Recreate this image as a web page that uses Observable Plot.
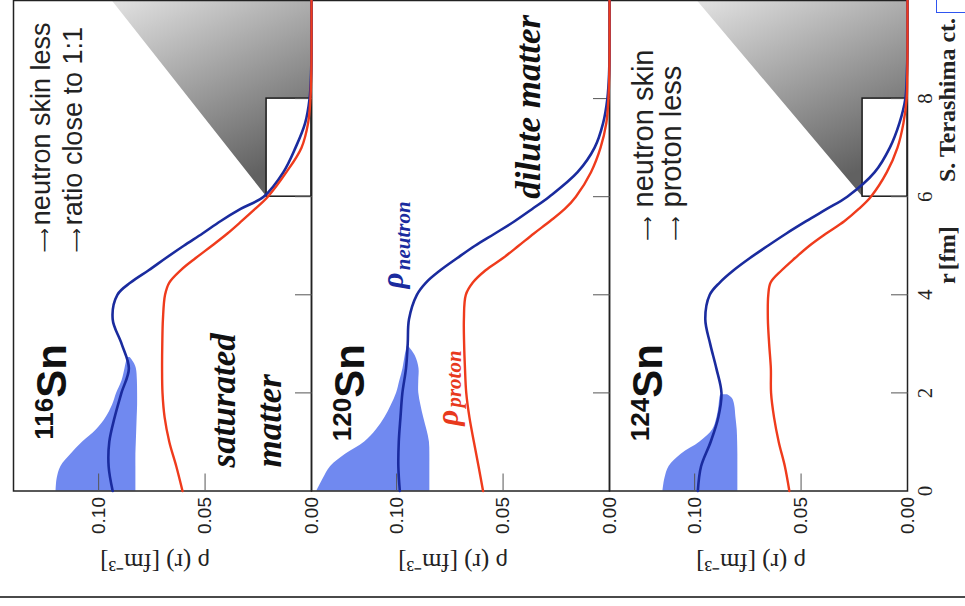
<!DOCTYPE html>
<html>
<head>
<meta charset="utf-8">
<script src="https://cdn.jsdelivr.net/npm/d3@7"></script>
<script src="https://cdn.jsdelivr.net/npm/@observablehq/plot@0.6"></script>
<style>
html, body { margin: 0; padding: 0; background: #fff; }
#wrap { position: relative; width: 965px; height: 606px; overflow: hidden; background: #fff; }
#chart { position: absolute; left: 0; top: 0; }
#bottomline { position: absolute; left: 0; top: 596px; width: 965px; height: 2px; background: #4a4a4a; }
#bluebox { position: absolute; left: 936px; top: -4px; width: 40px; height: 15px; border: 1.5px solid #2f55f0; }
</style>
</head>
<body>
<div id="wrap"><div id="chart"></div><div id="bottomline"></div><div id="bluebox"></div></div>
<script>
// ---------- data ----------
const nuclei = ["116Sn", "120Sn", "124Sn"];
const massNumbers = ["116", "120", "124"];

// radius grid r [fm] at which the density curves were read
const rGrid = [0, 0.5, 1, 1.5, 2, 2.5, 3, 3.5, 4, 4.25, 4.5, 4.75, 5, 5.25, 5.5, 5.75, 6, 6.5, 7, 7.5, 8, 8.5, 9, 10];

const neutron116 = [.0934, .0953, .0950, .0925, .0893, .0858, .0892, .0934, .0912, .0850, .0765, .0684, .0600, .0512, .0428, .0333, .0225, .0132, .0075, .0030, .0009, .0002, 0, 0];
const proton116  = [.0606, .0635, .0668, .0690, .0700, .0702, .0701, .0698, .0688, .0668, .0615, .0544, .0468, .0395, .0329, .0265, .0205, .0118, .0047, .0016, .0005, .0001, 0, 0];
const neutron120 = [.0985, .0992, .0990, .0982, .0973, .0956, .0948, .0942, .0905, .0862, .0795, .0715, .0632, .0538, .0446, .0363, .0283, .0150, .0070, .0030, .0010, .0002, 0, 0];
const proton120  = [.0594, .0615, .0637, .0658, .0673, .0679, .0683, .0684, .0675, .0642, .0582, .0500, .0427, .0355, .0280, .0210, .0158, .0087, .0042, .0015, .0005, .0001, 0, 0];
const neutron124 = [.0985, .0970, .0925, .0889, .0874, .0898, .0927, .0950, .0929, .0882, .0817, .0740, .0656, .0569, .0476, .0379, .0283, .0154, .0083, .0038, .0010, .0003, 0, 0];
const proton124  = [.0555, .0576, .0605, .0627, .0641, .0642, .0650, .0656, .0654, .0643, .0591, .0528, .0461, .0382, .0297, .0229, .0172, .0097, .0047, .0019, .0004, .0001, 0, 0];

// neutron uncertainty band
const bandR116    = [0, 0.25, 0.5, 0.75, 1, 1.25, 1.5, 1.75, 2, 2.25, 2.5, 2.62, 2.72];
const bandHigh116 = [.1200, .1195, .1177, .1130, .1075, .1010, .0965, .0935, .0915, .0890, .0876, .0870, .0862];
const bandLow116  = [.0825, .0825, .0825, .0825, .0823, .0821, .0819, .0817, .0817, .0818, .0823, .0835, .0852];
const bandR120    = [0, 0.25, 0.5, 0.75, 1, 1.25, 1.5, 1.75, 2, 2.25, 2.5, 2.75, 2.95];
const bandHigh120 = [.1375, .1345, .1310, .1240, .1150, .1095, .1055, .1025, .1000, .0985, .0970, .0960, .0950];
const bandLow120  = [.0844, .0844, .0844, .0844, .0846, .0858, .0873, .0886, .0896, .0896, .0895, .0912, .0944];
const bandR124    = [0, 0.25, 0.5, 0.75, 1, 1.25, 1.5, 1.75, 1.88, 1.96];
const bandHigh124 = [.1149, .1140, .1120, .1063, .0975, .0915, .0895, .0885, .0882, .0878];
const bandLow124  = [.0797, .0797, .0797, .0797, .0798, .0800, .0806, .0812, .0822, .0845];

// zoom callout (inset box r 6–8 fm, rho 0–0.021) and shaded wedge
const zoomNuclei = ["116Sn", "124Sn"];
const boxRho = [0, 0.0211];
const boxR = [6, 8];
const wedgeTopRho = [0.0938, 0.0989];

// axis ticks
const rhoTicks = [0, 0.05, 0.10];
const rhoMinorTicks = [0.05, 0.10];
const rTicks = [0, 2, 4, 6, 8];
const rInnerTicks = [2, 4, 6, 8];

// text
const notes116 = ["neutron skin less", "ratio close to 1:1"];
const notes124 = ["neutron skin", "proton less"];
const arrowGlyph = "⟶";
const matterTexts = ["saturated", "matter", "dilute matter"];
const rhoAxisLabel = "ρ (r) [fm⁻³]";
const rAxisParts = ["r", "[fm]", "S. Terashima ct."];

// ---------- build tables ----------
const neutronSeries = [neutron116, neutron120, neutron124];
const protonSeries = [proton116, proton120, proton124];
const bandSeries = [[bandR116, bandLow116, bandHigh116], [bandR120, bandLow120, bandHigh120], [bandR124, bandLow124, bandHigh124]];

const neutronRows = [], protonRows = [], bandRows = [];
nuclei.forEach((n, i) => {
  rGrid.forEach((r, j) => {
    neutronRows.push({nucleus: n, r, rho: neutronSeries[i][j]});
    protonRows.push({nucleus: n, r, rho: protonSeries[i][j]});
  });
  const [br, lo, hi] = bandSeries[i];
  br.forEach((r, j) => bandRows.push({nucleus: n, r, low: lo[j], high: hi[j]}));
});

const wedgeRows = [];
const boxRows = [];
zoomNuclei.forEach((n, i) => {
  const pts = [[wedgeTopRho[i], 10], [0, 10], [0, boxR[1]], [boxRho[1], boxR[1]], [boxRho[1], boxR[0]]];
  pts.forEach(([rho, r]) => wedgeRows.push({nucleus: n, rho, r}));
  boxRows.push({nucleus: n, rho1: boxRho[0], rho2: boxRho[1], r1: boxR[0], r2: boxR[1]});
});

const symbolRows = nuclei.map((n, i) => ({nucleus: n, mass: massNumbers[i], rhoSn: 0.1155, rhoMass: 0.1215, r: 1.9}));
const noteRows = [
  {nucleus: "116Sn", text: notes116[0], rho: 0.1228, r: 5.42, ra: 4.86, fs: 27},
  {nucleus: "116Sn", text: notes116[1], rho: 0.1078, r: 5.42, ra: 4.86, fs: 27},
  {nucleus: "124Sn", text: notes124[0], rho: 0.1196, r: 5.78, ra: 5.10, fs: 29},
  {nucleus: "124Sn", text: notes124[1], rho: 0.1064, r: 5.78, ra: 5.10, fs: 29}
];
const matterRows = [
  {nucleus: "116Sn", text: matterTexts[0], rho: 0.0361, r: 0.48},
  {nucleus: "116Sn", text: matterTexts[1], rho: 0.0141, r: 0.48},
  {nucleus: "120Sn", text: matterTexts[2], rho: 0.0328, r: 5.96}
];
const rhoSymbolRows = [
  {nucleus: "120Sn", text: "ρ", rho: 0.0970, r: 4.13, c: "#1a2b9e", size: 31},
  {nucleus: "120Sn", text: "neutron", rho: 0.0935, r: 4.50, c: "#1a2b9e", size: 21},
  {nucleus: "120Sn", text: "ρ", rho: 0.0713, r: 1.33, c: "#e8391d", size: 31},
  {nucleus: "120Sn", text: "proton", rho: 0.0700, r: 1.70, c: "#e8391d", size: 21}
];
const axisLabelRows = nuclei.map(n => ({nucleus: n, text: rhoAxisLabel, rho: 0.0735}));
const rTitleRows = [
  {nucleus: "124Sn", text: rAxisParts[0], r: 4.22, fs: "italic"},
  {nucleus: "124Sn", text: rAxisParts[1], r: 4.50, fs: "normal"},
  {nucleus: "124Sn", text: rAxisParts[2], r: 6.30, fs: "normal"}
];

// ---------- chart ----------
const sans = "'Liberation Sans', Arial, Helvetica, sans-serif";
const serif = "'Liberation Serif', 'Times New Roman', Times, serif";
const blue = "#1a2b9e", red = "#ef3b1c", bandFill = "#7089f0";

const chart = Plot.plot({
  width: 965,
  height: 606,
  marginLeft: 12,
  marginRight: 57,
  marginTop: 0,
  marginBottom: 115.5,
  style: {fontFamily: sans, fontSize: "18px", background: "transparent", overflow: "visible"},
  fx: {domain: nuclei, padding: 0, axis: null, label: null},
  x: {domain: [0, 0.14], reverse: true, label: null},
  y: {domain: [0, 10], label: null},
  marks: [
    Plot.line(wedgeRows, {x: "rho", y: "r", fx: "nucleus", fill: "url(#zoomGrad)", stroke: "none", curve: "linear-closed"}),
    Plot.rect(boxRows, {x1: "rho1", x2: "rho2", y1: "r1", y2: "r2", fx: "nucleus", fill: "white", stroke: "#1a1a1a", strokeWidth: 1.5}),
    Plot.areaX(bandRows, {y: "r", x1: "low", x2: "high", fx: "nucleus", fill: bandFill, curve: "catmull-rom"}),
    Plot.frame({stroke: "#222", strokeWidth: 1.5}),
    Plot.axisX({ticks: rhoMinorTicks, tickSize: 17, dy: -17, tickFormat: () => "", stroke: "#555", label: null}),
    Plot.axisX({ticks: rhoTicks, tickSize: 0, tickRotate: -90, tickPadding: 6, tickFormat: d3.format(".2f"), fontSize: 19, fill: "#222", label: null}),
    Plot.axisY({anchor: "right", ticks: rInnerTicks, tickSize: 17, dx: -17, tickFormat: () => "", facetAnchor: null, stroke: "#555", label: null}),
    Plot.axisY({anchor: "right", ticks: rTicks, tickSize: 0, tickRotate: -90, tickPadding: 8, dx: 16, fontSize: 21, fontFamily: serif, fill: "#222", label: null}),
    Plot.line(neutronRows, {x: "rho", y: "r", fx: "nucleus", stroke: blue, strokeWidth: 2.6, curve: "catmull-rom"}),
    Plot.line(protonRows, {x: "rho", y: "r", fx: "nucleus", stroke: red, strokeWidth: 2.4, curve: "catmull-rom"}),
    Plot.text(symbolRows, {x: "rhoSn", y: "r", fx: "nucleus", text: () => "Sn", rotate: -90, textAnchor: "start", lineAnchor: "bottom", fontSize: 42, fontWeight: "bold", fill: "#111"}),
    Plot.text(symbolRows, {x: "rhoMass", y: "r", fx: "nucleus", text: "mass", rotate: -90, textAnchor: "end", lineAnchor: "bottom", fontSize: 26, fontWeight: "bold", fill: "#111"}),
    Plot.text(noteRows, {x: "rho", y: "ra", fx: "nucleus", text: () => arrowGlyph, rotate: -90, textAnchor: "start", lineAnchor: "bottom", fontSize: 17, fontFamily: "'DejaVu Sans', sans-serif", fill: "#222"}),
    Plot.text(noteRows, {x: "rho", y: "r", fx: "nucleus", text: "text", rotate: -90, textAnchor: "start", lineAnchor: "bottom", fontSize: d => d.fs, fill: "#222"}),
    Plot.text(matterRows, {x: "rho", y: "r", fx: "nucleus", text: "text", rotate: -90, textAnchor: "start", lineAnchor: "bottom", fontSize: 35, fontFamily: serif, fontWeight: "bold", fontStyle: "italic", fill: "#111"}),
    Plot.text(rhoSymbolRows, {x: "rho", y: "r", fx: "nucleus", text: "text", rotate: -90, textAnchor: "start", lineAnchor: "bottom", fontSize: d => d.size, fontFamily: serif, fontWeight: "bold", fontStyle: "italic", fill: d => d.c}),
    Plot.text(axisLabelRows, {x: "rho", fx: "nucleus", frameAnchor: "bottom", dy: 71, text: "text", rotate: 180, textAnchor: "middle", lineAnchor: "middle", fontSize: 25, fontFamily: serif, fill: "#222"}),
    Plot.text(rTitleRows, {y: "r", fx: "nucleus", frameAnchor: "right", dx: 47, text: "text", rotate: -90, textAnchor: "start", lineAnchor: "bottom", fontSize: 24, fontFamily: serif, fontWeight: "bold", fontStyle: d => d.fs, fill: "#222"})
  ]
});

document.getElementById("chart").appendChild(chart);

// gradient used by the shaded zoom wedge
const svg = d3.select(chart.tagName.toLowerCase() === "svg" ? chart : chart.querySelector("svg"));
const grad = svg.insert("defs", ":first-child").append("linearGradient")
  .attr("id", "zoomGrad").attr("x1", 0).attr("y1", 0).attr("x2", 0.5).attr("y2", 1);
grad.append("stop").attr("offset", 0).attr("stop-color", "#e2e2e2");
grad.append("stop").attr("offset", 1).attr("stop-color", "#616161");
</script>
</body>
</html>
